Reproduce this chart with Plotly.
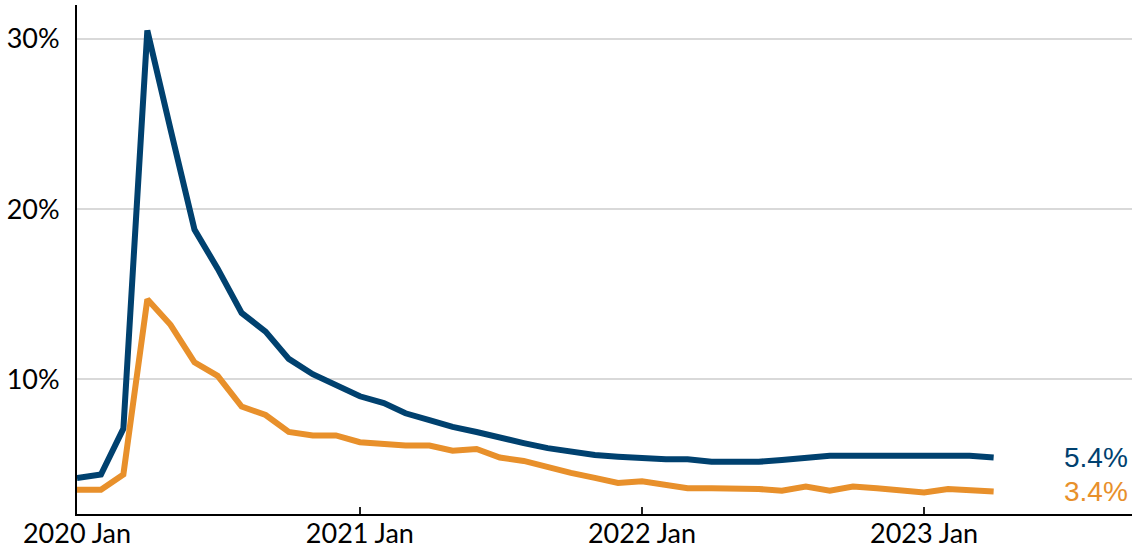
import plotly.graph_objects as go
import pandas as pd

months = pd.date_range("2020-01-01", "2023-04-01", freq="MS")

blue_values = [
    4.2, 4.4, 7.1, 30.5, 24.7, 18.8, 16.5, 13.9, 12.8, 11.2, 10.3, 9.7,
    9.0, 8.6, 8.0, 7.6, 7.2, 6.9, 6.55, 6.25, 5.95, 5.75, 5.55, 5.45,
    5.35, 5.3, 5.3, 5.15, 5.15, 5.15, 5.25, 5.35, 5.5, 5.5, 5.5, 5.5,
    5.5, 5.5, 5.5, 5.4,
]
orange_values = [
    3.5, 3.5, 4.4, 14.7, 13.2, 11.0, 10.2, 8.4, 7.9, 6.9, 6.7, 6.7,
    6.3, 6.2, 6.1, 6.1, 5.8, 5.9, 5.4, 5.2, 4.8, 4.5, 4.2, 3.9,
    4.0, 3.8, 3.6, 3.6, 3.6, 3.55, 3.45, 3.7, 3.45, 3.7, 3.6, 3.5,
    3.35, 3.55, 3.5, 3.4,
]
y_tick_values = [10, 20, 30]
y_tick_labels = ["10%", "20%", "30%"]
x_tick_values = ["2020-01-01", "2021-01-01", "2022-01-01", "2023-01-01"]

BLUE = "#00416F"
ORANGE = "#E8902B"

fig = go.Figure()
fig.add_trace(go.Scatter(x=months, y=blue_values, mode="lines",
                         line=dict(color=BLUE, width=6), hoverinfo="skip"))
fig.add_trace(go.Scatter(x=months, y=orange_values, mode="lines",
                         line=dict(color=ORANGE, width=6), hoverinfo="skip"))

for vals, col in [(blue_values, BLUE), (orange_values, ORANGE)]:
    fig.add_annotation(x=0.9336, xref="paper", y=vals[-1], yref="y",
                       text=f"{vals[-1]:.1f}%", showarrow=False,
                       xanchor="left", yanchor="middle",
                       font=dict(family="Liberation Sans, Arial", size=28, color=col))

fig.update_layout(
    width=1133, height=550,
    margin=dict(l=77, r=1, t=5, b=36, autoexpand=False),
    paper_bgcolor="white", plot_bgcolor="white",
    showlegend=False,
    font=dict(family="Lato, Open Sans, sans-serif", size=27, color="black"),
)
fig.update_xaxes(
    range=["2020-01-01", "2023-09-27"],
    tickvals=x_tick_values, tickformat="%Y %b",
    ticks="inside", ticklen=7, tickwidth=2, tickcolor="#222",
    showline=True, linecolor="black", linewidth=2,
    showgrid=False, zeroline=False, ticklabelstandoff=-5,
)
fig.update_yaxes(
    range=[2.08, 32.0],
    tickvals=y_tick_values, ticktext=y_tick_labels,
    showline=True, linecolor="black", linewidth=2,
    showgrid=True, gridcolor="#d9d9d9", gridwidth=2,
    zeroline=False, ticks="", ticklabelstandoff=10,
)

fig.write_html("out.html", config={"displayModeBar": False},
               post_script="document.body.style.margin='0px';document.body.style.overflow='hidden';")
